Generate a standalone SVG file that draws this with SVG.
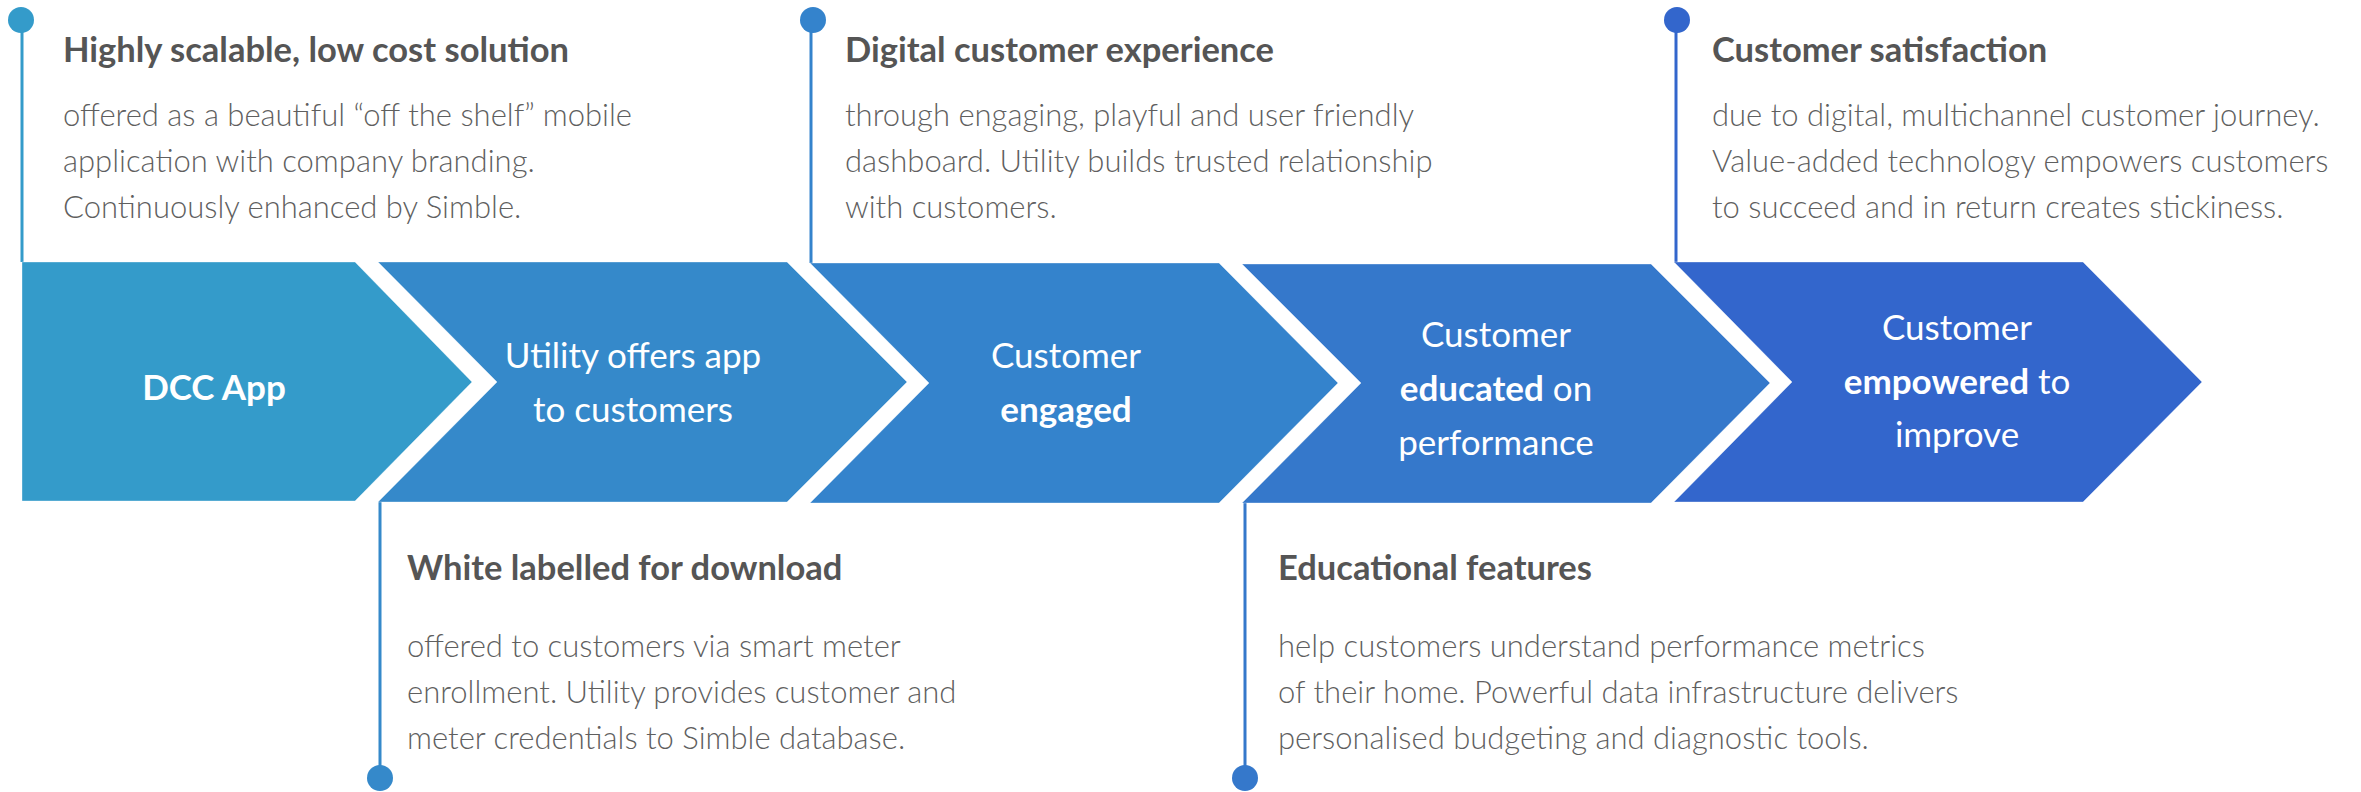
<svg xmlns="http://www.w3.org/2000/svg" width="2361" height="792" viewBox="0 0 2361 792">
<style>
.chev{stroke:#ffffff;stroke-opacity:0.35;stroke-width:1}
.ctext{font-family:Lato,"Open Sans","Liberation Sans",sans-serif;font-size:35px;fill:#ffffff;text-anchor:middle}
.b{font-weight:700}
.title{font-family:Lato,"Open Sans","Liberation Sans",sans-serif;font-size:34.5px;font-weight:700;fill:#555555}
.body{font-family:Lato,"Open Sans","Liberation Sans",sans-serif;font-size:31px;font-weight:300;fill:#5f5f5f}
.ln{stroke-width:3;fill:none}
</style>
<rect width="2361" height="792" fill="#ffffff"/>
<g id="connectors">
<line class="ln" x1="22" y1="20" x2="22" y2="262" stroke="#349bca"/>
<circle cx="21" cy="20" r="13" fill="#349bca"/>
<line class="ln" x1="380" y1="502" x2="380" y2="778" stroke="#3589ca"/>
<circle cx="380" cy="778" r="13" fill="#3589ca"/>
<line class="ln" x1="811" y1="20" x2="811" y2="263" stroke="#3483cc"/>
<circle cx="813" cy="20" r="13" fill="#3483cc"/>
<line class="ln" x1="1245" y1="503" x2="1245" y2="778" stroke="#3578cb"/>
<circle cx="1245" cy="778" r="13" fill="#3578cb"/>
<line class="ln" x1="1676" y1="20" x2="1676" y2="263" stroke="#3366cc"/>
<circle cx="1677" cy="20" r="13" fill="#3366cc"/>
</g>
<g id="step1">
<polygon class="chev" points="22,262 355,262 472,382 355,501 22,501" fill="#349bca"/>
<text class="ctext b" x="214" y="400">DCC App</text>
</g>
<g id="step2">
<polygon class="chev" points="378,262 787,262 907,382 787,502 378,502 497,382" fill="#3589ca"/>
<text class="ctext" x="633" y="368">Utility offers app</text>
<text class="ctext" x="633" y="422">to customers</text>
</g>
<g id="step3">
<polygon class="chev" points="810,263 1219,263 1338,383 1219,503 810,503 929,383" fill="#3483cc"/>
<text class="ctext" x="1066" y="368">Customer</text>
<text class="ctext b" x="1066" y="422">engaged</text>
</g>
<g id="step4">
<polygon class="chev" points="1242,264 1651,264 1770,383 1651,503 1242,503 1361,383" fill="#3578cb"/>
<text class="ctext" x="1496" y="347">Customer</text>
<text class="ctext" x="1496" y="401"><tspan class="b">educated</tspan> on</text>
<text class="ctext" x="1496" y="455">performance</text>
</g>
<g id="step5">
<polygon class="chev" points="1674,262 2083,262 2202,382 2083,502 1674,502 1792,382" fill="#3366cc"/>
<text class="ctext" x="1957" y="340">Customer</text>
<text class="ctext" x="1957" y="394"><tspan class="b">empowered</tspan> to</text>
<text class="ctext" x="1957" y="447">improve</text>
</g>
<g id="note1">
<text class="title" x="63" y="62">Highly scalable, low cost solution</text>
<text class="body" x="63" y="126">offered as a beautiful “off the shelf” mobile</text>
<text class="body" x="63" y="172">application with company branding.</text>
<text class="body" x="63" y="218">Continuously enhanced by Simble.</text>
</g>
<g id="note2">
<text class="title" x="407" y="580">White labelled for download</text>
<text class="body" x="407" y="657">offered to customers via smart meter</text>
<text class="body" x="407" y="703">enrollment. Utility provides customer and</text>
<text class="body" x="407" y="749">meter credentials to Simble database.</text>
</g>
<g id="note3">
<text class="title" x="845" y="62">Digital customer experience</text>
<text class="body" x="845" y="126">through engaging, playful and user friendly</text>
<text class="body" x="845" y="172">dashboard. Utility builds trusted relationship</text>
<text class="body" x="845" y="218">with customers.</text>
</g>
<g id="note4">
<text class="title" x="1278" y="580">Educational features</text>
<text class="body" x="1278" y="657">help customers understand performance metrics</text>
<text class="body" x="1278" y="703">of their home. Powerful data infrastructure delivers</text>
<text class="body" x="1278" y="749">personalised budgeting and diagnostic tools.</text>
</g>
<g id="note5">
<text class="title" x="1712" y="62">Customer satisfaction</text>
<text class="body" x="1712" y="126">due to digital, multichannel customer journey.</text>
<text class="body" x="1712" y="172">Value-added technology empowers customers</text>
<text class="body" x="1712" y="218">to succeed and in return creates stickiness.</text>
</g>
</svg>
